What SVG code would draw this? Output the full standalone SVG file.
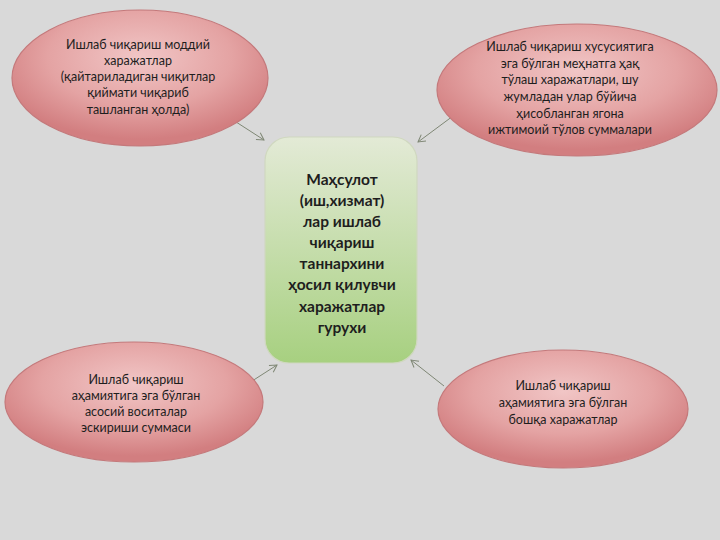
<svg xmlns="http://www.w3.org/2000/svg" width="720" height="540" viewBox="0 0 720 540">
<defs>
<radialGradient id="pink" cx="50%" cy="35%" r="60%">
<stop offset="0" stop-color="#f1c6c6"/>
<stop offset="0.6" stop-color="#e4a3a3"/>
<stop offset="1" stop-color="#d27e80"/>
</radialGradient>
<linearGradient id="green" x1="0" y1="0" x2="0" y2="1">
<stop offset="0" stop-color="#e3ead6"/>
<stop offset="1" stop-color="#a7d080"/>
</linearGradient>
<marker id="arr" markerWidth="10" markerHeight="10" refX="8" refY="5" orient="auto" markerUnits="userSpaceOnUse">
<path d="M1,1 L8,5 L1,9" fill="none" stroke="#7f8775" stroke-width="1"/>
</marker>
<style>
.ell{fill:url(#pink);stroke:#c4797b;stroke-width:1.2}
.t{font-family:Lato,"Open Sans","DejaVu Sans",sans-serif;font-size:12.5px;fill:#1e1e1e;text-anchor:middle}
.c{font-family:Lato,"Open Sans","DejaVu Sans",sans-serif;font-size:15.5px;font-weight:bold;fill:#1e1e1e;text-anchor:middle}
.ln{stroke:#7f8775;stroke-width:1;fill:none;marker-end:url(#arr)}
</style>
</defs>
<rect width="720" height="540" fill="#d9d9d9"/>
<g id="connectors">
<line class="ln" x1="233" y1="120" x2="264" y2="140"/>
<line class="ln" x1="453" y1="116" x2="418" y2="142"/>
<line class="ln" x1="249" y1="383" x2="277" y2="365"/>
<line class="ln" x1="444" y1="386" x2="411" y2="360"/>
</g>
<g id="center">
<rect x="265" y="137" width="152" height="226" rx="24" fill="url(#green)" stroke="#d0d8c0" stroke-width="1.2"/>
<text class="c" x="342" y="185">Маҳсулот</text>
<text class="c" x="342" y="206">(иш,хизмат)</text>
<text class="c" x="342" y="227">лар ишлаб</text>
<text class="c" x="342" y="248">чиқариш</text>
<text class="c" x="342" y="269">таннархини</text>
<text class="c" x="342" y="290">ҳосил қилувчи</text>
<text class="c" x="342" y="312">харажатлар</text>
<text class="c" x="342" y="333">гурухи</text>
</g>
<g id="topleft">
<ellipse class="ell" cx="140" cy="78" rx="128" ry="68"/>
<text class="t" x="138" y="49">Ишлаб чиқариш моддий</text>
<text class="t" x="138" y="65">харажатлар</text>
<text class="t" x="138" y="81">(қайтариладиган чиқитлар</text>
<text class="t" x="138" y="97">қиймати чиқариб</text>
<text class="t" x="138" y="114">ташланган ҳолда)</text>
</g>
<g id="topright">
<ellipse class="ell" cx="577" cy="90" rx="140" ry="66"/>
<text class="t" x="570" y="51">Ишлаб чиқариш хусусиятига</text>
<text class="t" x="570" y="68">эга бўлган меҳнатга ҳақ</text>
<text class="t" x="570" y="84">тўлаш харажатлари, шу</text>
<text class="t" x="570" y="101">жумладан улар бўйича</text>
<text class="t" x="570" y="118">ҳисобланган ягона</text>
<text class="t" x="570" y="134">ижтимоий тўлов суммалари</text>
</g>
<g id="bottomleft">
<ellipse class="ell" cx="134" cy="402" rx="129" ry="60"/>
<text class="t" x="136" y="384">Ишлаб чиқариш</text>
<text class="t" x="136" y="400">аҳамиятига эга бўлган</text>
<text class="t" x="136" y="416">асосий воситалар</text>
<text class="t" x="136" y="432">эскириши суммаси</text>
</g>
<g id="bottomright">
<ellipse class="ell" cx="563" cy="409" rx="125" ry="59"/>
<text class="t" x="563" y="390">Ишлаб чиқариш</text>
<text class="t" x="563" y="407">аҳамиятига эга бўлган</text>
<text class="t" x="563" y="424">бошқа харажатлар</text>
</g>
</svg>
